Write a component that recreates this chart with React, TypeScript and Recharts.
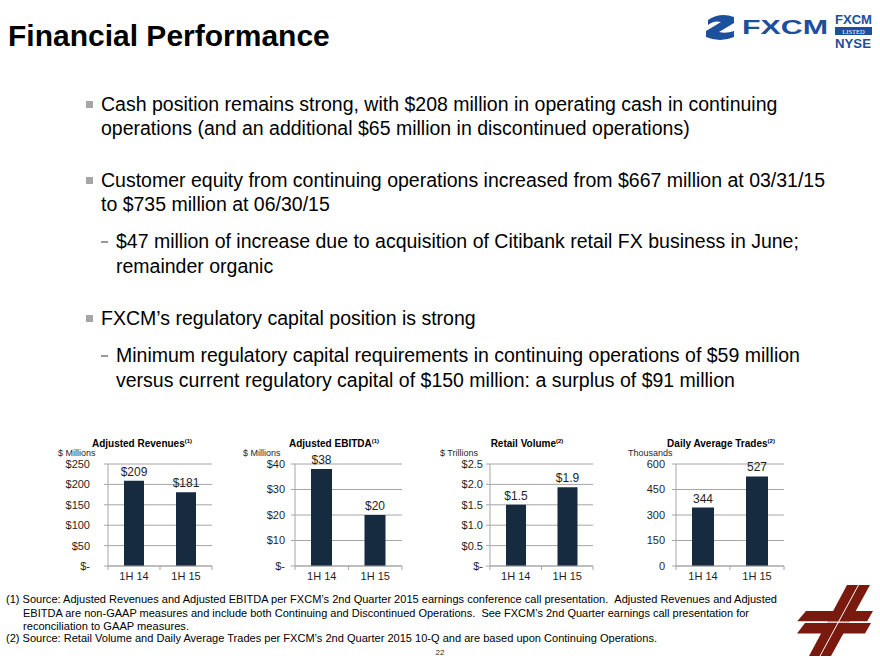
import React from "react";
import { Bar, BarChart, CartesianGrid, LabelList, XAxis, YAxis } from "recharts";

const periods = ["1H 14", "1H 15"];
const revenues = [209, 181];
const ebitda = [38, 20];
const retailVolume = [1.5, 1.93];
const dailyTrades = [344, 527];

const revenueTicks = [0, 50, 100, 150, 200, 250];
const ebitdaTicks = [0, 10, 20, 30, 40];
const volumeTicks = [0, 0.5, 1, 1.5, 2, 2.5];
const tradeTicks = [0, 150, 300, 450, 600];

const FONT = "'Liberation Sans', Arial, Helvetica, sans-serif";
const BAR = "#172B40";
const GRID = "#A6A6A6";
const INK = "#1f1f1f";

const toRows = (values: number[]) => periods.map((p, i) => ({ period: p, value: values[i] }));

const dollar = (v: number) => (v === 0 ? "$-" : `$${v}`);
const dollar1 = (v: number) => (v === 0 ? "$-" : `$${v.toFixed(1)}`);
const plain = (v: number) => `${v}`;

function PeriodTick({ x, y, payload, index, band }: any) {
  const ay = y - 6;
  return (
    <g>
      {index === 0 && (
        <line x1={x - band / 2} x2={x - band / 2} y1={ay} y2={ay + 4} stroke={GRID} />
      )}
      <line x1={x + band / 2} x2={x + band / 2} y1={ay} y2={ay + 4} stroke={GRID} />
      <text x={x} y={y} dy="0.71em" textAnchor="middle" fontSize={11} fill={INK} fontFamily={FONT}>
        {payload.value}
      </text>
    </g>
  );
}

type MiniProps = {
  title: string;
  note: string;
  unit: string;
  unitX: number;
  titleX: number;
  values: number[];
  ticks: number[];
  tickFmt: (v: number) => string;
  labelFmt: (v: number) => string;
  left: number;
  axisX: number;
  plotRight: number;
  barSize: number;
  tickGap: number;
};

function MiniChart(p: MiniProps) {
  const width = p.plotRight + 6 - p.left;
  const band = (p.plotRight - p.axisX) / 2;
  const rows = toRows(p.values);
  return (
    <>
      <div
        style={{
          position: "absolute",
          left: p.titleX,
          top: 438,
          transform: "translateX(-50%)",
          whiteSpace: "nowrap",
          fontSize: 10,
          fontWeight: "bold",
          color: "#000",
        }}
      >
        {p.title}
        <sup style={{ fontSize: 6 }}>{p.note}</sup>
      </div>
      <div style={{ position: "absolute", left: p.unitX, top: 448, fontSize: 9, color: INK, whiteSpace: "nowrap" }}>
        {p.unit}
      </div>
      <div style={{ position: "absolute", left: p.left, top: 454 }}>
        <BarChart
          width={width}
          height={134}
          data={rows}
          margin={{ top: 10, right: 6, left: 0, bottom: 0 }}
          barCategoryGap={0}
        >
          <CartesianGrid vertical={false} stroke={GRID} />
          <XAxis
            dataKey="period"
            height={22}
            axisLine={{ stroke: GRID }}
            tickLine={false}
            tickSize={4}
            tickMargin={2}
            interval={0}
            tick={(t: any) => <PeriodTick {...t} band={band} />}
          />
          <YAxis
            width={p.axisX - p.left}
            domain={[p.ticks[0], p.ticks[p.ticks.length - 1]]}
            ticks={p.ticks}
            interval={0}
            axisLine={{ stroke: GRID }}
            tickLine={{ stroke: GRID }}
            tickSize={4}
            tickMargin={p.tickGap}
            tickFormatter={p.tickFmt}
            tick={{ fontSize: 11, fill: INK, fontFamily: FONT }}
          />
          <Bar dataKey="value" fill={BAR} barSize={p.barSize} isAnimationActive={false}>
            <LabelList
              dataKey="value"
              position="top"
              offset={5}
              formatter={(v: any) => p.labelFmt(Number(v))}
              style={{ fontSize: 12, fill: INK, fontFamily: FONT }}
            />
          </Bar>
        </BarChart>
      </div>
    </>
  );
}

function Line({ x, cy, children }: { x: number; cy: number; children: React.ReactNode }) {
  return (
    <div
      style={{
        position: "absolute",
        left: x,
        top: cy - 12,
        lineHeight: "24px",
        fontSize: 19.5,
        whiteSpace: "nowrap",
        color: "#000",
      }}
    >
      {children}
    </div>
  );
}

function Square({ cy }: { cy: number }) {
  return <div style={{ position: "absolute", left: 86, top: cy - 3, width: 7, height: 7, background: "#A6A6A6" }} />;
}

function Dash({ cy }: { cy: number }) {
  return <div style={{ position: "absolute", left: 101, top: cy, width: 7, height: 1.5, background: "#9a9a9a" }} />;
}

function FxcmLogo() {
  const blue = "#1C4F9C";
  return (
    <svg width={180} height={50} style={{ position: "absolute", left: 700, top: 5 }}>
      <path
        d="M8 15 Q20 7 34 12 L34 18 L19 27 Q26 29 34 26 L34 32 Q20 38 6 32 L6 26 L21 17 Q14 15 8 20 Z"
        fill={blue}
      />
      <text
        x={42}
        y={29}
        fontSize={21}
        fontWeight={900}
        fill={blue}
        fontFamily={FONT}
        textLength={86}
        lengthAdjust="spacingAndGlyphs"
      >
        FXCM
      </text>
      <text x={135} y={19} fontSize={12} fontWeight="bold" fill={blue} fontFamily={FONT} textLength={37} lengthAdjust="spacingAndGlyphs">
        FXCM
      </text>
      <rect x={135} y={22} width={37} height={8} fill={blue} />
      <text x={153.5} y={28.5} fontSize={6.5} fill="#fff" textAnchor="middle" fontFamily="'Liberation Serif', serif">
        LISTED
      </text>
      <text x={135} y={43} fontSize={13} fontWeight="bold" fill={blue} fontFamily={FONT} textLength={36} lengthAdjust="spacingAndGlyphs">
        NYSE
      </text>
    </svg>
  );
}

function CornerMark() {
  const red = "#7A1A0E";
  return (
    <svg width={880} height={660} style={{ position: "absolute", left: 0, top: 0, pointerEvents: "none" }}>
      <polygon points="806,611 873,611 867,621.5 797,621.5" fill={red} />
      <polygon points="805,623 871,623 865,633.5 797,633.5" fill={red} />
      <polygon points="847,585 870,585 831,656 809,656" fill={red} />
      <line x1={858.5} y1={585} x2={820} y2={656} stroke="#fff" strokeWidth={1} />
      <line x1={797} y1={622.2} x2={873} y2={622.2} stroke="#fff" strokeWidth={1.2} />
    </svg>
  );
}

function Footnotes() {
  const common = { fontSize: 10.8, fontFamily: FONT, fill: "#000", lengthAdjust: "spacingAndGlyphs" as const };
  return (
    <svg width={880} height={660} style={{ position: "absolute", left: 0, top: 0, pointerEvents: "none" }}>
      <text x={6} y={603} textLength={771} {...common}>
        (1) Source: Adjusted Revenues and Adjusted EBITDA per FXCM’s 2nd Quarter 2015 earnings conference call presentation.{"\u00a0\u00a0"}Adjusted Revenues and Adjusted
      </text>
      <text x={23} y={617} textLength={726} {...common}>
        EBITDA are non-GAAP measures and include both Continuing and Discontinued Operations.{"\u00a0\u00a0"}See FXCM’s 2nd Quarter earnings call presentation for
      </text>
      <text x={23} y={630} textLength={166} {...common}>
        reconciliation to GAAP measures.
      </text>
      <text x={6} y={642} textLength={651} {...common}>
        (2) Source: Retail Volume and Daily Average Trades per FXCM’s 2nd Quarter 2015 10-Q and are based upon Continuing Operations.
      </text>
      <text x={440} y={655} fontSize={8} fontFamily={FONT} fill={INK} textAnchor="middle">
        22
      </text>
    </svg>
  );
}

export default function App() {
  return (
    <div
      style={{
        position: "fixed",
        left: 0,
        top: 0,
        width: 880,
        height: 660,
        background: "#fff",
        fontFamily: FONT,
        overflow: "hidden",
      }}
    >
      <div style={{ position: "absolute", left: 8, top: 19, fontSize: 30, lineHeight: "34px", fontWeight: "bold", color: "#000" }}>
        Financial Performance
      </div>
      <FxcmLogo />

      <Square cy={104} />
      <Line x={101} cy={104}>Cash position remains strong, with $208 million in operating cash in continuing</Line>
      <Line x={101} cy={128}>operations (and an additional $65 million in discontinued operations)</Line>

      <Square cy={180} />
      <Line x={101} cy={180}>Customer equity from continuing operations increased from $667 million at 03/31/15</Line>
      <Line x={101} cy={204}>to $735 million at 06/30/15</Line>

      <Dash cy={241} />
      <Line x={116} cy={241}>$47 million of increase due to acquisition of Citibank retail FX business in June;</Line>
      <Line x={116} cy={266}>remainder organic</Line>

      <Square cy={318} />
      <Line x={101} cy={318}>FXCM’s regulatory capital position is strong</Line>

      <Dash cy={355} />
      <Line x={116} cy={355}>Minimum regulatory capital requirements in continuing operations of $59 million</Line>
      <Line x={116} cy={380}>versus current regulatory capital of $150 million: a surplus of $91 million</Line>

      <MiniChart
        title="Adjusted Revenues"
        note="(1)"
        unit="$ Millions"
        unitX={58}
        titleX={142}
        values={revenues}
        ticks={revenueTicks}
        tickFmt={dollar}
        labelFmt={dollar}
        left={40}
        axisX={108}
        plotRight={212}
        barSize={20}
        tickGap={14}
      />
      <MiniChart
        title="Adjusted EBITDA"
        note="(1)"
        unit="$ Millions"
        unitX={243}
        titleX={334}
        values={ebitda}
        ticks={ebitdaTicks}
        tickFmt={dollar}
        labelFmt={dollar}
        left={230}
        axisX={295}
        plotRight={402}
        barSize={21}
        tickGap={6}
      />
      <MiniChart
        title="Retail Volume"
        note="(2)"
        unit="$ Trillions"
        unitX={440}
        titleX={527}
        values={retailVolume}
        ticks={volumeTicks}
        tickFmt={dollar1}
        labelFmt={dollar1}
        left={420}
        axisX={490}
        plotRight={593}
        barSize={20}
        tickGap={3}
      />
      <MiniChart
        title="Daily Average Trades"
        note="(2)"
        unit="Thousands"
        unitX={628}
        titleX={721}
        values={dailyTrades}
        ticks={tradeTicks}
        tickFmt={plain}
        labelFmt={plain}
        left={610}
        axisX={676}
        plotRight={784}
        barSize={22}
        tickGap={7}
      />

      <Footnotes />
      <CornerMark />
    </div>
  );
}
